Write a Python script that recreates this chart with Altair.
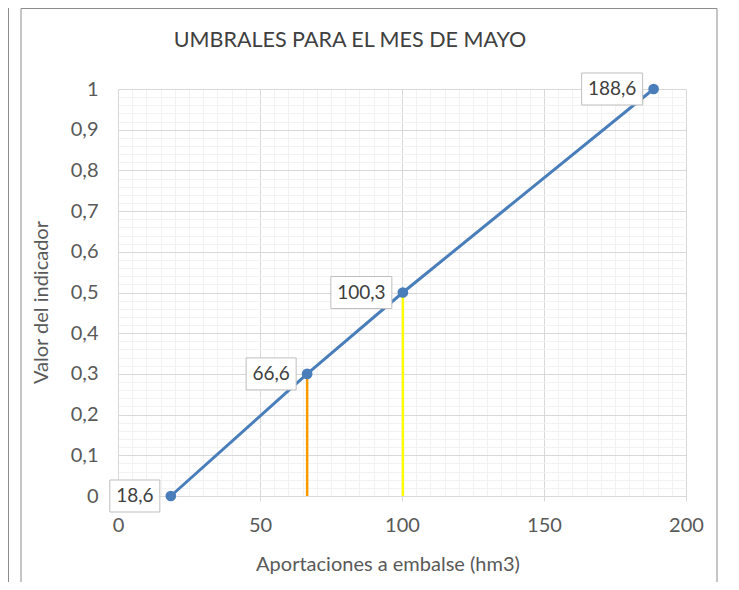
import altair as alt
import pandas as pd

# ---- data ----
x_vals = [18.6, 66.6, 100.3, 188.6]
y_vals = [0.0, 0.3, 0.5, 1.0]
labels = ["18,6", "66,6", "100,3", "188,6"]

rule_x = [66.6, 100.3]
rule_y = [0.3, 0.5]
rule_names = ["naranja", "amarillo"]
rule_colors = ["#FF9900", "#FFFF00"]

title_text = "UMBRALES PARA EL MES DE MAYO"
x_title = "Aportaciones a embalse (hm3)"
y_title = "Valor del indicador"

x_ticks = list(range(0, 201, 5))
y_ticks = [round(i * 0.02, 2) for i in range(51)]

pts = pd.DataFrame({"x": x_vals, "y": y_vals, "label": labels})
pts["n"] = pts["label"].str.len()
rules = pd.DataFrame({"x": rule_x, "y": rule_y, "name": rule_names})
one = pd.DataFrame({"k": [0]})

FONT = "Lato"
FS = 20
W, H = 568, 407

xscale = alt.Scale(domain=[0, 200], nice=False, zero=True)
yscale = alt.Scale(domain=[0, 1], nice=False, zero=True)

x_major = "datum.value % 50 === 0"
y_major = "abs(datum.value*10 - round(datum.value*10)) < 1e-6"

x_axis = alt.Axis(
    values=x_ticks,
    grid=True,
    gridColor={"condition": {"test": x_major, "value": "#D9D9D9"}, "value": "#F2F2F2"},
    gridWidth=1,
    labelExpr=f"{x_major} ? datum.label : ''",
    labelOverlap=False,
    labelFlush=False,
    labelFont=FONT,
    labelFontSize=FS,
    labelColor="#595959",
    labelPadding=14,
    ticks=True,
    tickSize=5,
    tickColor="#D9D9D9",
    tickOpacity={"condition": {"test": x_major, "value": 1}, "value": 0},
    domainColor="#D9D9D9",
    title=x_title,
    titleFont=FONT,
    titleFontSize=FS,
    titleFontWeight="normal",
    titleColor="#595959",
    titleX=269.5,
    titleY=74,
    titleAlign="center",
    titleBaseline="alphabetic",
)

y_axis = alt.Axis(
    values=y_ticks,
    grid=True,
    gridColor={"condition": {"test": y_major, "value": "#D9D9D9"}, "value": "#F2F2F2"},
    gridWidth=1,
    labelExpr=f"{y_major} ? replace(format(datum.value, '.1~f'), '.', ',') : ''",
    labelOverlap=False,
    labelFlush=False,
    labelFont=FONT,
    labelFontSize=FS,
    labelColor="#595959",
    labelPadding=20,
    ticks=False,
    domainColor="#D9D9D9",
    title=y_title,
    titleFont=FONT,
    titleFontSize=FS,
    titleFontWeight="normal",
    titleColor="#595959",
    titleX=-71,
    titleY=213,
    titleAlign="center",
    titleBaseline="alphabetic",
)

X = alt.X("x:Q", scale=xscale, axis=x_axis)
Y = alt.Y("y:Q", scale=yscale, axis=y_axis)

base = alt.Chart(pts)

line = base.mark_line(color="#4A7EBB", strokeWidth=3).encode(x=X, y=Y)

vrules = alt.Chart(rules).mark_rule(strokeWidth=2.5).encode(
    x=X,
    y=Y,
    y2=alt.datum(0),
    color=alt.Color("name:N", scale=alt.Scale(domain=rule_names, range=rule_colors), legend=None),
)

dots = base.mark_circle(color="#4A7EBB", size=115, opacity=1).encode(x=X, y=Y)

box5 = base.transform_filter("datum.n == 5").mark_rect(
    width=61, height=32, xOffset=-41.5, fill="white", stroke="#BFBFBF", strokeWidth=1
).encode(x=X, y=Y)
box4 = base.transform_filter("datum.n == 4").mark_rect(
    width=50, height=32, xOffset=-36, fill="white", stroke="#BFBFBF", strokeWidth=1
).encode(x=X, y=Y)

txt5 = base.transform_filter("datum.n == 5").mark_text(
    dx=-41.5, font=FONT, fontSize=19, color="#404040", align="center", baseline="middle"
).encode(x=X, y=Y, text="label:N")
txt4 = base.transform_filter("datum.n == 4").mark_text(
    dx=-36, font=FONT, fontSize=19, color="#404040", align="center", baseline="middle"
).encode(x=X, y=Y, text="label:N")

frame = alt.Chart(one).mark_rect(fillOpacity=0, stroke="#8C8C8C", strokeWidth=1).encode(
    x=alt.value(-97), x2=alt.value(599), y=alt.value(-80.5), y2=alt.value(530)
)
left_edge = alt.Chart(one).mark_rule(color="#8C8C8C", strokeWidth=1).encode(
    x=alt.value(-109.5), y=alt.value(-90), y2=alt.value(530)
)

title = alt.Chart(one).mark_text(
    font=FONT, fontSize=21.5, color="#404040", align="center", baseline="alphabetic"
).encode(x=alt.value(232), y=alt.value(-42), text=alt.value(title_text))

chart = alt.layer(
    frame, left_edge, title, vrules, line, dots, box4, box5, txt4, txt5
).properties(
    width=W,
    height=H,
    autosize=alt.AutoSizeParams(type="none"),
    padding={"left": 110, "top": 81, "right": 45, "bottom": 86},
).configure_view(stroke=None)

chart.save("out.html", embed_options={"renderer": "svg", "actions": False})
